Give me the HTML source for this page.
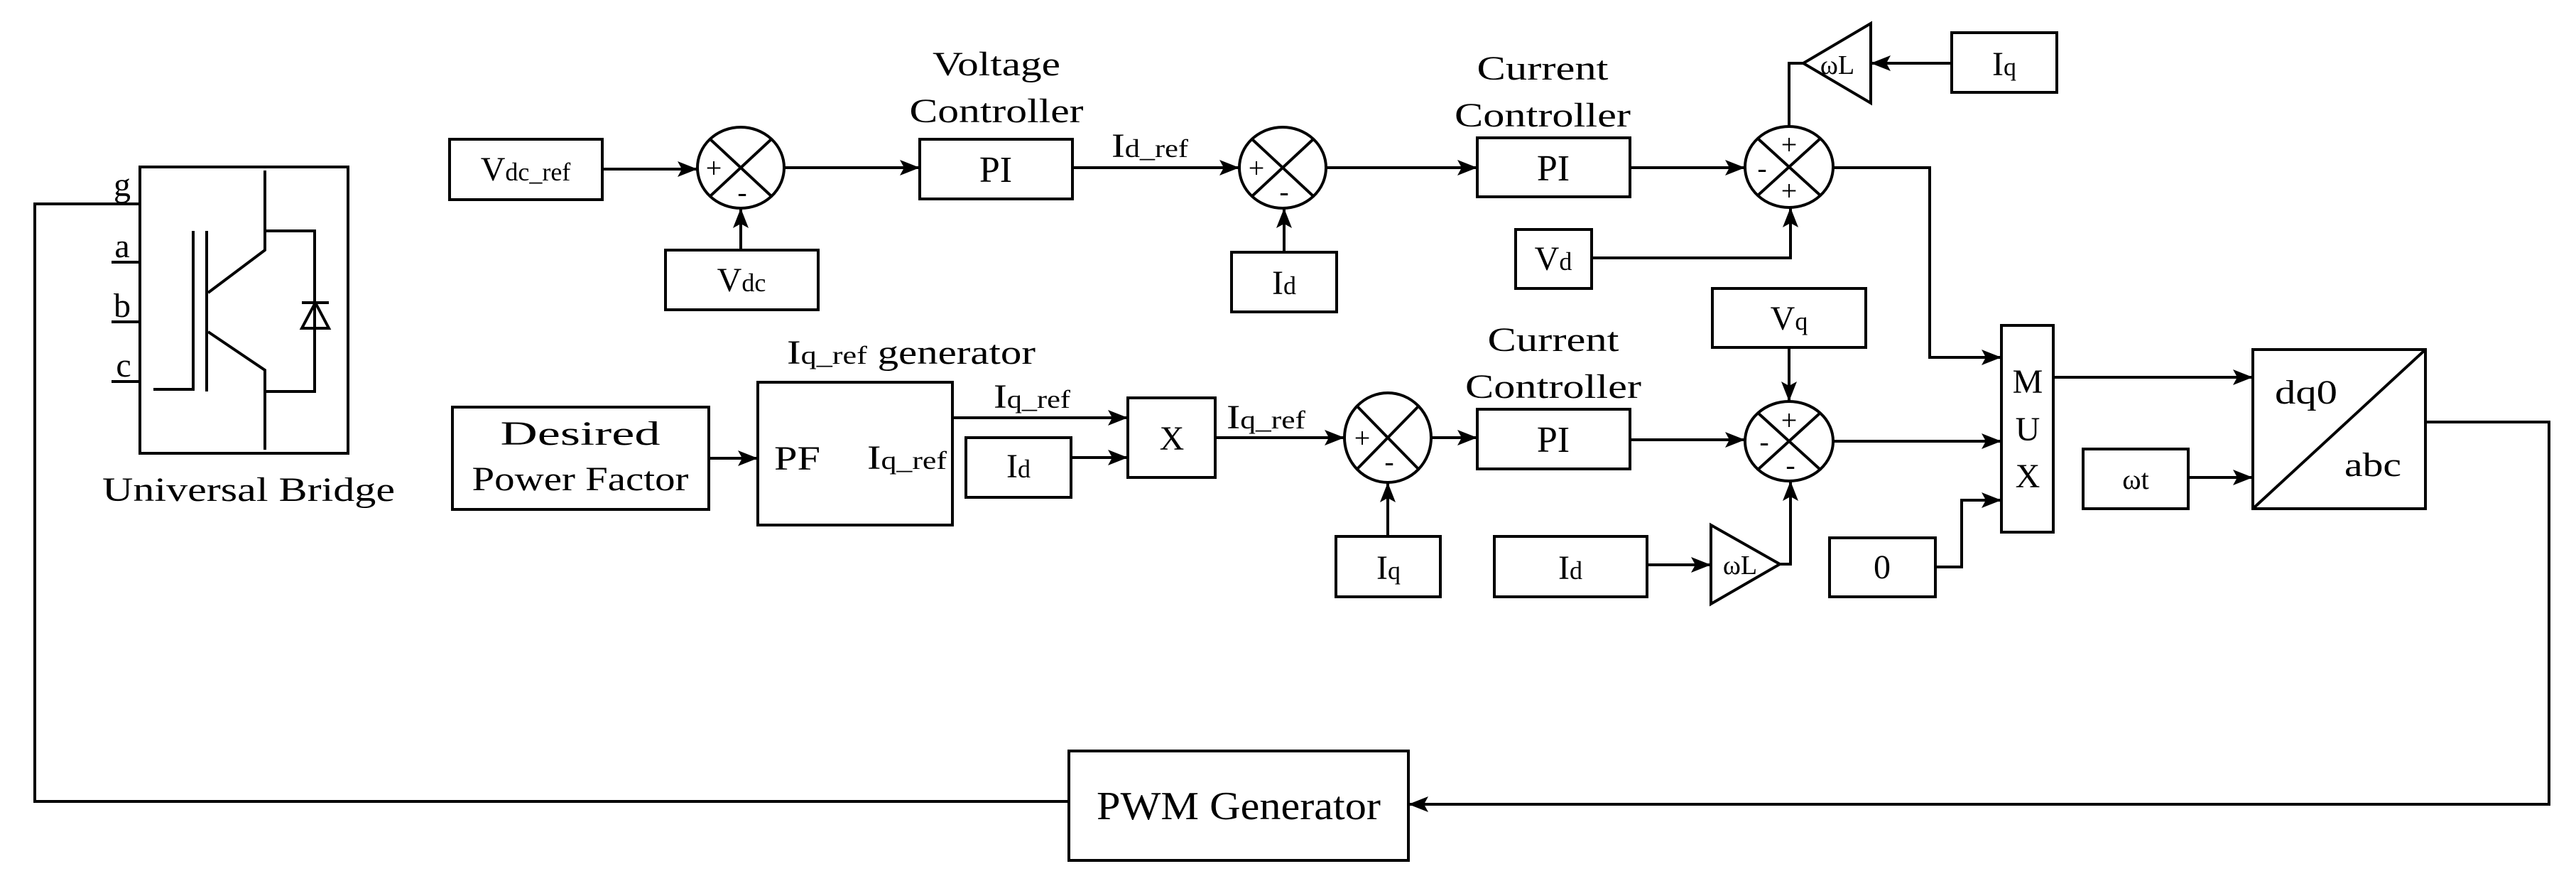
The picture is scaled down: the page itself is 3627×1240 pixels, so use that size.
<!DOCTYPE html>
<html><head><meta charset="utf-8"><style>
html,body{margin:0;padding:0;background:#fff;}
svg{display:block;}
text{font-family:"Liberation Serif",serif;fill:#000;}
</style></head><body>
<svg width="3627" height="1240" viewBox="0 0 3627 1240" xmlns="http://www.w3.org/2000/svg">
<defs>
<marker id="a" markerUnits="userSpaceOnUse" markerWidth="30" markerHeight="24" refX="28" refY="12" orient="auto">
<path d="M0,1 L28,12 L0,23 L6,12 Z" fill="#000"/>
</marker>
</defs>
<g fill="none" stroke="#000" stroke-width="4">
<!-- Universal bridge -->
<rect x="197" y="235" width="293" height="403"/>
<line x1="157" y1="369" x2="197" y2="369"/>
<line x1="157" y1="453" x2="197" y2="453"/>
<line x1="157" y1="537" x2="197" y2="537"/>
<polyline points="373,240 373,352 293,412"/>
<polyline points="293,467 373,521 373,633"/>
<line x1="291" y1="325" x2="291" y2="551"/>
<polyline points="272,325 272,548 216,548"/>
<polyline points="373,325 443,325 443,551 373,551"/>
<line x1="425" y1="426" x2="463" y2="426"/>
<polygon points="444,426 425,462 463,462"/>
<!-- boxes -->
<rect x="633" y="196" width="215" height="85"/>
<rect x="937" y="352" width="215" height="84"/>
<rect x="1295" y="196" width="215" height="84"/>
<rect x="1734" y="355" width="148" height="84"/>
<rect x="2080" y="194" width="215" height="83"/>
<rect x="2134" y="323" width="107" height="83"/>
<rect x="2748" y="46" width="148" height="84"/>
<rect x="637" y="573" width="361" height="144"/>
<rect x="1067" y="538" width="274" height="201"/>
<rect x="1360" y="616" width="148" height="84"/>
<rect x="1588" y="560" width="123" height="112"/>
<rect x="1881" y="755" width="147" height="85"/>
<rect x="2080" y="576" width="215" height="84"/>
<rect x="2104" y="755" width="215" height="85"/>
<rect x="2411" y="406" width="216" height="83"/>
<rect x="2576" y="757" width="149" height="83"/>
<rect x="2818" y="458" width="73" height="291"/>
<rect x="2933" y="632" width="148" height="84"/>
<rect x="3172" y="492" width="243" height="224"/>
<line x1="3172" y1="716" x2="3415" y2="492"/>
<rect x="1505" y="1057" width="478" height="154"/>
<!-- triangles -->
<polygon points="2539,89 2634,33 2634,145"/>
<polygon points="2409,739 2409,850 2506,794"/>
<!-- summers -->
<ellipse cx="1043" cy="236" rx="61" ry="57"/>
<line x1="1000" y1="196" x2="1086" y2="276"/><line x1="1086" y1="196" x2="1000" y2="276"/>
<ellipse cx="1806" cy="236" rx="61" ry="57"/>
<line x1="1763" y1="196" x2="1849" y2="276"/><line x1="1849" y1="196" x2="1763" y2="276"/>
<ellipse cx="2519" cy="235" rx="62" ry="57"/>
<line x1="2475" y1="195" x2="2563" y2="275"/><line x1="2563" y1="195" x2="2475" y2="275"/>
<ellipse cx="1954" cy="616" rx="61" ry="63"/>
<line x1="1911" y1="572" x2="1997" y2="660"/><line x1="1997" y1="572" x2="1911" y2="660"/>
<ellipse cx="2519" cy="621" rx="62" ry="56"/>
<line x1="2475" y1="581" x2="2563" y2="661"/><line x1="2563" y1="581" x2="2475" y2="661"/>
</g>
<g fill="none" stroke="#000" stroke-width="4" marker-end="url(#a)">
<line x1="848" y1="238" x2="982" y2="238"/>
<line x1="1104" y1="236" x2="1295" y2="236"/>
<line x1="1043" y1="352" x2="1043" y2="293"/>
<line x1="1510" y1="236" x2="1745" y2="236"/>
<line x1="1808" y1="355" x2="1808" y2="293"/>
<line x1="1867" y1="236" x2="2080" y2="236"/>
<line x1="2295" y1="236" x2="2457" y2="236"/>
<polyline points="2241,363 2521,363 2521,292"/>
<line x1="2748" y1="89" x2="2634" y2="89"/>
<polyline points="2581,236 2717,236 2717,503 2818,503"/>
<line x1="998" y1="645" x2="1067" y2="645"/>
<line x1="1341" y1="588" x2="1588" y2="588"/>
<line x1="1508" y1="644" x2="1588" y2="644"/>
<line x1="1711" y1="616" x2="1893" y2="616"/>
<line x1="1954" y1="755" x2="1954" y2="679"/>
<line x1="2015" y1="616" x2="2080" y2="616"/>
<line x1="2295" y1="619" x2="2457" y2="619"/>
<line x1="2519" y1="489" x2="2519" y2="565"/>
<line x1="2319" y1="795" x2="2409" y2="795"/>
<polyline points="2506,794 2521,794 2521,677"/>
<line x1="2581" y1="621" x2="2818" y2="621"/>
<polyline points="2725,798 2762,798 2762,704 2818,704"/>
<line x1="2891" y1="531" x2="3172" y2="531"/>
<line x1="3081" y1="672" x2="3172" y2="672"/>
<polyline points="3415,594 3589,594 3589,1132 1983,1132"/>
<polyline points="2519,178 2519,89 2539,89" marker-end="none"/>
</g>
<polyline points="1505,1128 49,1128 49,287 197,287" fill="none" stroke="#000" stroke-width="4"/>

<!-- text -->
<g font-size="48">
<text x="172" y="276" text-anchor="middle">g</text>
<text x="172" y="362" text-anchor="middle">a</text>
<text x="172" y="446" text-anchor="middle">b</text>
<text x="174" y="530" text-anchor="middle">c</text>
<text x="350" y="705" text-anchor="middle" textLength="412" lengthAdjust="spacingAndGlyphs">Universal Bridge</text>

<text x="740" y="254" text-anchor="middle">V<tspan font-size="36">dc_ref</tspan></text>
<text x="1044" y="410" text-anchor="middle">V<tspan font-size="36">dc</tspan></text>
<text x="1403" y="106" text-anchor="middle" textLength="180" lengthAdjust="spacingAndGlyphs">Voltage</text>
<text x="1403" y="172" text-anchor="middle" textLength="245" lengthAdjust="spacingAndGlyphs">Controller</text>
<text x="1402" y="256" text-anchor="middle" font-size="52">PI</text>
<text x="1565" y="221" textLength="108" lengthAdjust="spacingAndGlyphs">I<tspan font-size="36">d_ref</tspan></text>
<text x="1808" y="414" text-anchor="middle">I<tspan font-size="36">d</tspan></text>
<text x="2172" y="112" text-anchor="middle" textLength="185" lengthAdjust="spacingAndGlyphs">Current</text>
<text x="2172" y="178" text-anchor="middle" textLength="248" lengthAdjust="spacingAndGlyphs">Controller</text>
<text x="2187" y="254" text-anchor="middle" font-size="52">PI</text>
<text x="2187" y="380" text-anchor="middle">V<tspan font-size="36">d</tspan></text>
<text x="2822" y="106" text-anchor="middle">I<tspan font-size="36">q</tspan></text>
<text x="2587" y="104" text-anchor="middle" font-size="38">ωL</text>

<text x="1283" y="512" text-anchor="middle" textLength="350" lengthAdjust="spacingAndGlyphs">I<tspan font-size="36">q_ref</tspan> generator</text>
<text x="817" y="626" text-anchor="middle" textLength="225" lengthAdjust="spacingAndGlyphs">Desired</text>
<text x="817" y="690" text-anchor="middle" textLength="305" lengthAdjust="spacingAndGlyphs">Power Factor</text>
<text x="1090" y="661" textLength="65" lengthAdjust="spacingAndGlyphs">PF</text>
<text x="1221" y="660" textLength="112" lengthAdjust="spacingAndGlyphs">I<tspan font-size="36">q_ref</tspan></text>
<text x="1399" y="574" textLength="108" lengthAdjust="spacingAndGlyphs">I<tspan font-size="36">q_ref</tspan></text>
<text x="1434" y="672" text-anchor="middle">I<tspan font-size="36">d</tspan></text>
<text x="1650" y="633" text-anchor="middle">X</text>
<text x="1727" y="603" textLength="111" lengthAdjust="spacingAndGlyphs">I<tspan font-size="36">q_ref</tspan></text>
<text x="2187" y="494" text-anchor="middle" textLength="185" lengthAdjust="spacingAndGlyphs">Current</text>
<text x="2187" y="560" text-anchor="middle" textLength="248" lengthAdjust="spacingAndGlyphs">Controller</text>
<text x="2187" y="636" text-anchor="middle" font-size="52">PI</text>
<text x="1955" y="815" text-anchor="middle">I<tspan font-size="36">q</tspan></text>
<text x="2211" y="815" text-anchor="middle">I<tspan font-size="36">d</tspan></text>
<text x="2450" y="808" text-anchor="middle" font-size="38">ωL</text>
<text x="2519" y="464" text-anchor="middle">V<tspan font-size="36">q</tspan></text>
<text x="2650" y="814" text-anchor="middle">0</text>
<text x="2855" y="553" text-anchor="middle">M</text>
<text x="2855" y="620" text-anchor="middle">U</text>
<text x="2855" y="686" text-anchor="middle">X</text>
<text x="3007" y="688" text-anchor="middle" font-size="40">ωt</text>
<text x="3247" y="568" text-anchor="middle" textLength="88" lengthAdjust="spacingAndGlyphs">dq0</text>
<text x="3341" y="670" text-anchor="middle" textLength="80" lengthAdjust="spacingAndGlyphs">abc</text>
<text x="1744" y="1153" text-anchor="middle" font-size="56" textLength="400" lengthAdjust="spacingAndGlyphs">PWM Generator</text>
</g>
<g font-size="40" font-family="Liberation Sans, sans-serif">
<text x="1005" y="250" text-anchor="middle">+</text>
<text x="1045" y="284" text-anchor="middle">-</text>
<text x="1769" y="250" text-anchor="middle">+</text>
<text x="1808" y="283" text-anchor="middle">-</text>
<text x="1918" y="630" text-anchor="middle">+</text>
<text x="1956" y="663" text-anchor="middle">-</text>
<text x="2519" y="217" text-anchor="middle">+</text>
<text x="2481" y="250" text-anchor="middle">-</text>
<text x="2519" y="282" text-anchor="middle">+</text>
<text x="2519" y="605" text-anchor="middle">+</text>
<text x="2484" y="635" text-anchor="middle">-</text>
<text x="2521" y="668" text-anchor="middle">-</text>
</g>
</svg>
</body></html>
